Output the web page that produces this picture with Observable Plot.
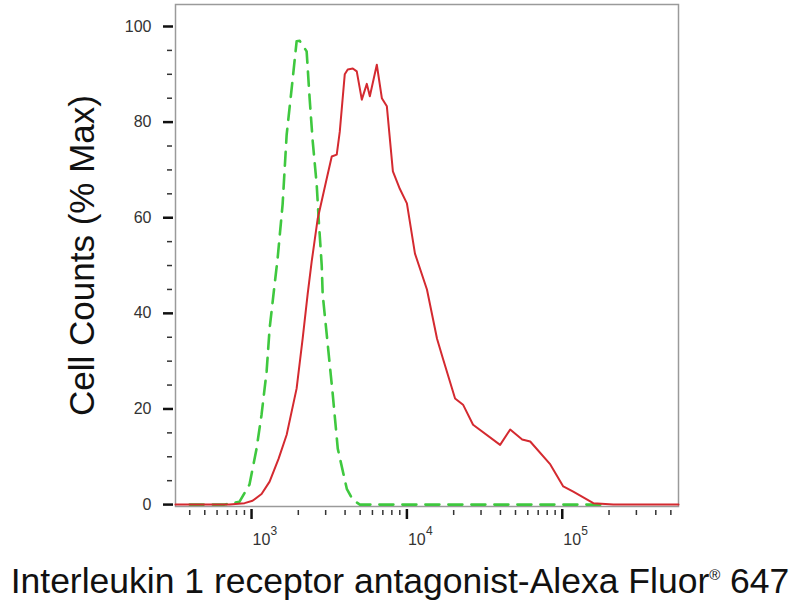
<!DOCTYPE html>
<html>
<head>
<meta charset="utf-8">
<script src="https://cdn.jsdelivr.net/npm/d3@7"></script>
<script src="https://cdn.jsdelivr.net/npm/@observablehq/plot@0.6"></script>
<style>
  body { margin: 0; background: #fff; }
</style>
</head>
<body>
<div id="chart"></div>
<script>
// stained sample (red, solid)
const redX = [324, 721, 902, 1015, 1160, 1307, 1494, 1683, 1951, 2133, 2297, 2438, 2666, 3048, 3283, 3535, 3698, 3981, 4162, 4486, 4756, 5126, 5521, 5773, 6402, 6899, 7430, 8126, 9016, 10000, 11270, 13460, 15630, 17070, 20420, 22980, 26660, 39810, 46210, 55210, 62190, 83760, 101500, 117700, 158500, 213300, 560000]
const redY = [0, 0, 0.3, 0.8, 2.2, 4.8, 9.6, 14.6, 24.3, 34.7, 44, 50.8, 59.8, 68.2, 72.8, 73.2, 78, 90, 91, 91.2, 90.6, 84.7, 88, 85.4, 92, 85, 83.3, 69.7, 66, 63, 52.5, 45, 34.7, 30.5, 22.2, 20.9, 16.7, 12.5, 15.7, 13.6, 13.2, 8.4, 3.8, 2.7, 0.3, 0, 0]

// isotype control (green, dashed)
const greenX = [400, 670, 837, 970, 1077, 1160, 1250, 1307, 1407, 1472, 1585, 1683, 1812, 1951, 2041, 2263, 2366, 2477, 2627, 2706, 2830, 2870, 3093, 3333, 3589, 4103, 4486, 4977, 180000]
const greenY = [0, 0, 0.6, 4.2, 11.7, 18.8, 27.8, 36.8, 46, 51.5, 62.8, 77.4, 87, 96.9, 97, 94.8, 84.9, 75.9, 66.9, 59.6, 50, 44, 33.5, 23, 11.7, 3.3, 1, 0, 0]

const yMajor = [0, 20, 40, 60, 80, 100]
const yMinor = [5, 10, 15, 25, 30, 35, 45, 50, 55, 65, 70, 75, 85, 90, 95]
const xMajor = [1e3, 1e4, 1e5]
const xExp = ["3", "4", "5"]
const xMinor = [400, 500, 600, 700, 800, 900, 2000, 3000, 4000, 5000, 6000, 7000, 8000, 9000,
  20000, 30000, 40000, 50000, 60000, 70000, 80000, 90000, 200000, 300000, 400000, 500000]

const xTitle = "Interleukin 1 receptor antagonist-Alexa Fluor® 647"
const yTitle = "Cell Counts (% Max)"

const red = redX.map((x, i) => ({x, y: redY[i]}))
const green = greenX.map((x, i) => ({x, y: greenY[i]}))

const chart = Plot.plot({
  width: 800,
  height: 600,
  marginLeft: 175,
  marginRight: 122,
  marginTop: 4,
  marginBottom: 94,
  style: {fontFamily: "'Liberation Sans', Arial, sans-serif", background: "#fff", overflow: "visible"},
  x: {type: "log", domain: [324, 560000]},
  y: {domain: [-0.4, 104.6]},
  marks: [
    Plot.frame({stroke: "#9a9a9a", strokeWidth: 1.5}),
    Plot.axisY(yMajor, {tickSize: 10, dx: -2, strokeWidth: 2.5, stroke: "#111", tickPadding: 12, fontSize: 16, fill: "#333", label: null}),
    Plot.axisY(yMinor, {tickSize: 5, dx: -3, strokeWidth: 1.5, stroke: "#333", fill: "none", label: null}),
    Plot.axisX(xMajor, {tickSize: 10, dy: 3, strokeWidth: 2.5, stroke: "#111", fill: "none", label: null}),
    Plot.axisX(xMinor, {tickSize: 5, dy: 4, strokeWidth: 1.5, stroke: "#333", fill: "none", label: null}),
    // "10" with a raised exponent
    Plot.text(xMajor, {x: d => d, text: () => "10", frameAnchor: "bottom", lineAnchor: "bottom",
      dy: 38, dx: 1, textAnchor: "start", fontSize: 16, fill: "#333"}),
    Plot.text(xMajor, {x: d => d, text: (d, i) => xExp[i], frameAnchor: "bottom", lineAnchor: "bottom",
      dy: 28, dx: 19, textAnchor: "start", fontSize: 12, fill: "#333"}),
    Plot.line(green, {x: "x", y: "y", stroke: "#3fc83f", strokeWidth: 2.6, strokeDasharray: "14,9"}),
    Plot.line(red, {x: "x", y: "y", stroke: "#d42a30", strokeWidth: 2}),
    Plot.text([yTitle], {frameAnchor: "left", textAnchor: "middle", rotate: -90, dx: -93, fontSize: 35, fill: "#111"}),
    Plot.text([xTitle], {frameAnchor: "bottom", lineAnchor: "bottom", dy: 86, dx: -27, fontSize: 35.5, fill: "#111", className: "xtitle"})
  ]
})

// small raised ® like the original caption
d3.select(chart).selectAll(".xtitle text").each(function() {
  const t = d3.select(this)
  t.text(null)
  t.append("tspan").text("Interleukin 1 receptor antagonist-Alexa Fluor")
  t.append("tspan").attr("font-size", 15).attr("dy", -13).text("®")
  t.append("tspan").attr("dy", 13).text(" 647")
})

d3.select('#chart').append(() => chart)
</script>
</body>
</html>
